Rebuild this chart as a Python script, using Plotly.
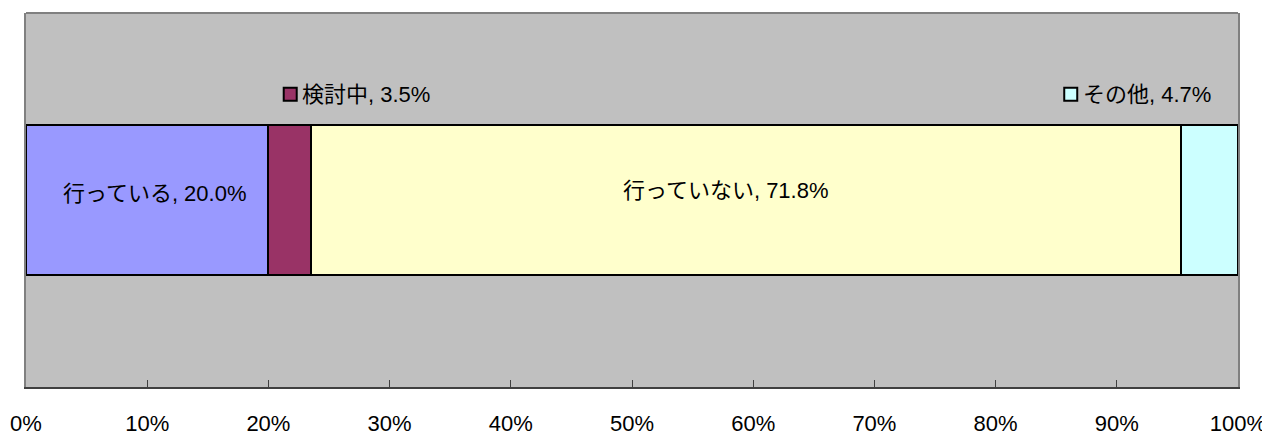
import plotly.graph_objects as go

categories = ["行っている", "検討中", "行っていない", "その他"]
values = [20.0, 3.5, 71.8, 4.7]
colors = ["#9999FF", "#993366", "#FFFFCC", "#CCFFFF"]
tick_vals = [0, 10, 20, 30, 40, 50, 60, 70, 80, 90, 100]
tick_text = [f"{v}%" for v in tick_vals]

FONT = "Liberation Sans, Arial, Noto Sans CJK JP"
FS = 22

fig = go.Figure()
for cat, val, col in zip(categories, values, colors):
    fig.add_trace(go.Bar(
        y=[0], x=[val], orientation="h", name=cat,
        marker=dict(color=col, line=dict(color="black", width=2)),
        width=0.4,
        hoverinfo="skip", showlegend=False,
    ))

# labels inside bars (positioned relative to each segment's midpoint)
inside_shift = {"行っている": (8, 7), "行っていない": (-20, 10)}
# outside labels with legend keys
outside_pos = {"検討中": 21.8, "その他": 86.2}
start = 0.0
for cat, val, col in zip(categories, values, colors):
    mid = start + val / 2
    if cat in inside_shift:
        xs, ys = inside_shift[cat]
        fig.add_annotation(
            x=mid, y=0, xref="x", yref="y", text=f"{cat}, {val:.1f}%",
            showarrow=False, xanchor="center", yanchor="middle", xshift=xs, yshift=ys,
            font=dict(family=FONT, size=FS, color="black"),
        )
    if cat in outside_pos:
        px = outside_pos[cat]
        fig.add_trace(go.Scatter(
            x=[px], y=[0.283], mode="markers",
            marker=dict(symbol="square", size=13, color=col, line=dict(color="black", width=2)),
            hoverinfo="skip", showlegend=False, cliponaxis=False,
        ))
        fig.add_annotation(
            x=px, y=0.283, xref="x", yref="y", text=f"{cat}, {val:.1f}%",
            showarrow=False, xanchor="left", yanchor="middle", xshift=10,
            font=dict(family=FONT, size=FS, color="black"),
        )
    start += val

fig.update_layout(
    barmode="stack",
    width=1262, height=429,
    margin=dict(l=18, r=32, t=5, b=50, autoexpand=False),
    paper_bgcolor="white", plot_bgcolor="#C0C0C0",
    font=dict(family=FONT, size=FS, color="black"),
    xaxis=dict(range=[0, 100], tickvals=tick_vals, ticktext=tick_text,
               ticks="inside", ticklen=7, tickcolor="#404040",
               showgrid=False, zeroline=False, automargin=False,
               showline=True, linecolor="#404040", linewidth=2,
               tickfont=dict(family=FONT, size=FS), ticklabelstandoff=16),
    yaxis=dict(range=[-0.5, 0.5], showticklabels=False, showgrid=False, automargin=False,
               zeroline=False, showline=True, linecolor="#808080", linewidth=2, mirror=True),
    shapes=[dict(type="line", xref="paper", yref="paper", x0=0, x1=1, y0=1, y1=1,
                 line=dict(color="#808080", width=2))],
)

fig.write_html("out.html")
